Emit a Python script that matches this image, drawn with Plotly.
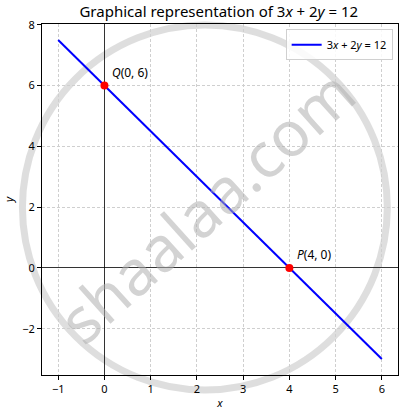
import plotly.graph_objects as go

# Data
line_x = [-1, 6]
line_y = [7.5, -3]
pt_x = [0, 4]
pt_y = [6, 0]
pt_labels = ["<i>Q</i>(0, 6)", "<i>P</i>(4, 0)"]
x_ticks = [-1, 0, 1, 2, 3, 4, 5, 6]
x_ticktext = ["−1", "0", "1", "2", "3", "4", "5", "6"]
y_ticks = [-2, 0, 2, 4, 6, 8]
y_ticktext = ["−2", "0", "2", "4", "6", "8"]

FONT = "Noto Sans"

fig = go.Figure()
fig.add_trace(go.Scatter(x=line_x, y=line_y, mode="lines",
                         line=dict(color="blue", width=2),
                         name="3<i>x</i> + 2<i>y</i> = 12"))
fig.add_trace(go.Scatter(x=pt_x, y=pt_y, mode="markers",
                         marker=dict(color="red", size=8),
                         showlegend=False))
for x, y, t in zip(pt_x, pt_y, pt_labels):
    fig.add_annotation(x=x, y=y, text=t, showarrow=False,
                       xanchor="left", yanchor="bottom", xshift=6, yshift=3,
                       font=dict(size=12, color="black", family=FONT))

# watermark
fig.add_shape(type="circle", xref="paper", yref="paper",
              x0=-0.055, x1=0.97, y0=-0.043, y1=0.997,
              line=dict(color="rgba(200,200,200,0.6)", width=7), layer="below")
fig.add_annotation(xref="paper", yref="paper", x=0.458, y=0.484,
                   text="shaalaa.com", showarrow=False, textangle=-42,
                   font=dict(size=63, color="rgba(175,175,175,0.55)", family=FONT))

axis_common = dict(showgrid=True, gridcolor="#cfcfcf", griddash="3px,2px", gridwidth=1,
                   zeroline=True, zerolinecolor="rgba(0,0,0,0.8)", zerolinewidth=1,
                   showline=True, linecolor="black", linewidth=1, mirror=True,
                   ticks="outside", ticklen=4, tickcolor="black", automargin=False,
                   tickfont=dict(size=11, color="black", family=FONT))

fig.update_xaxes(range=[-1.35, 6.35], tickvals=x_ticks, ticktext=x_ticktext,
                 title=dict(text="<i>x</i>", font=dict(size=11, family=FONT), standoff=4),
                 **axis_common)
fig.update_yaxes(range=[-3.525, 8.025], tickvals=y_ticks, ticktext=y_ticktext,
                 title=dict(text="<i>y</i>", font=dict(size=11, family=FONT), standoff=6),
                 **axis_common)

fig.update_layout(
    width=409, height=417,
    margin=dict(l=42, r=11, t=24, b=42),
    plot_bgcolor="white", paper_bgcolor="white",
    font=dict(family=FONT, color="black"),
    title=dict(text="Graphical representation of 3<i>x</i> + 2<i>y</i> = 12",
               x=0.535, xanchor="center", y=0.972, yanchor="middle",
               font=dict(size=15, family=FONT)),
    legend=dict(x=0.985, y=0.985, xanchor="right", yanchor="top",
                bgcolor="rgba(255,255,255,0.85)", bordercolor="#d0d0d0", borderwidth=1,
                font=dict(size=11, family=FONT)),
)

fig.write_html("out.html", config={"displayModeBar": False},
               post_script="document.body.style.margin='0';document.body.style.overflow='hidden';")
